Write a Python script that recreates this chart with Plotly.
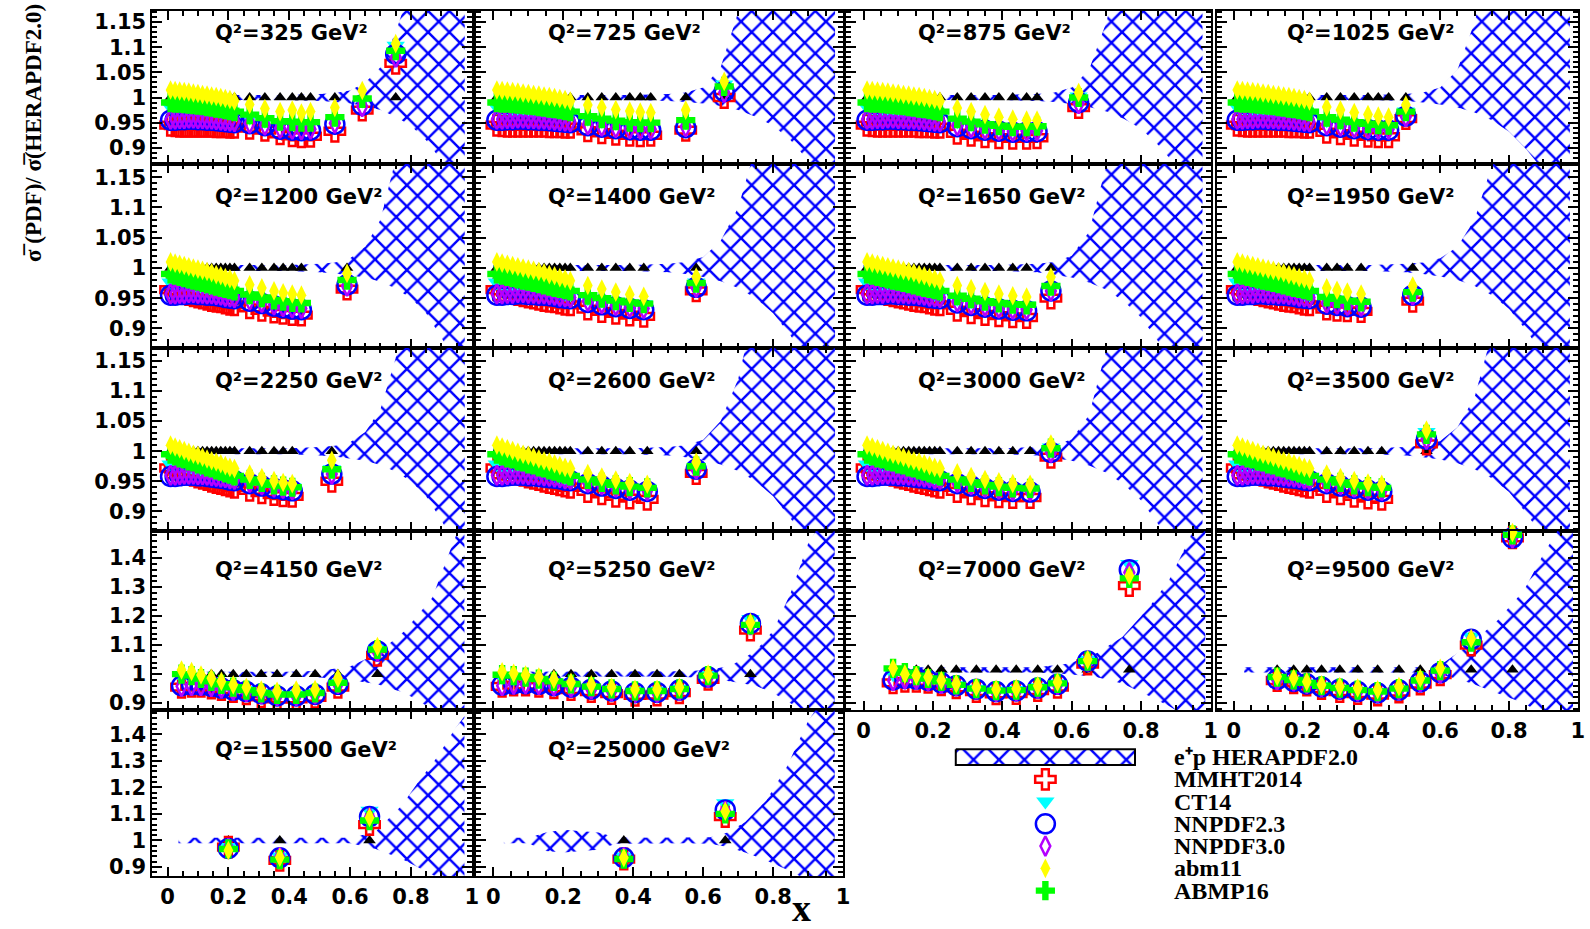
import plotly.graph_objects as go

W, H = 1590, 929

# ---------------------------------------------------------------- data
q2_values = [325, 725, 875, 1025, 1200, 1400, 1650, 1950, 2250, 2600, 3000, 3500,
             4150, 5250, 7000, 9500, 15500, 25000]
series_names = ["MMHT2014", "CT14", "NNPDF2.3", "NNPDF3.0", "abm11", "ABMP16"]
band_name = "e\u207ap HERAPDF2.0"

# dense low-x points shared by the Q2 <= 3500 panels
x_dense = [0.01, 0.025, 0.04, 0.055, 0.07, 0.085, 0.10, 0.115, 0.13, 0.145, 0.16, 0.175, 0.19, 0.205, 0.22]
hera_dense = [1.0, 1.0, 1.0, 1.0, 1.0, 1.0, 1.0, 1.0, 1.0, 1.0, 1.0, 1.0, 1.0, 1.0, 1.0]
# row 1 (325-1025)
abm11_dense_a = [1.015, 1.014, 1.013, 1.012, 1.011, 1.009, 1.008, 1.006, 1.005, 1.003, 1.002, 1.000, 0.998, 0.996, 0.993]
abmp16_dense_a = [0.990, 0.989, 0.989, 0.988, 0.987, 0.986, 0.985, 0.984, 0.982, 0.981, 0.979, 0.978, 0.976, 0.974, 0.972]
ct14_dense_a = [0.981, 0.980, 0.980, 0.979, 0.978, 0.978, 0.977, 0.976, 0.975, 0.973, 0.972, 0.971, 0.969, 0.967, 0.966]
nn23_dense_a = [0.955, 0.955, 0.956, 0.956, 0.957, 0.957, 0.956, 0.956, 0.955, 0.955, 0.954, 0.953, 0.952, 0.951, 0.950]
nn30_dense_a = [0.957, 0.957, 0.958, 0.958, 0.959, 0.959, 0.958, 0.958, 0.957, 0.957, 0.956, 0.955, 0.954, 0.953, 0.952]
mmht_dense_a = [0.945, 0.944, 0.943, 0.943, 0.943, 0.943, 0.943, 0.943, 0.943, 0.943, 0.942, 0.942, 0.942, 0.941, 0.941]
# row 2 (1200-1950)
abm11_dense_b = [1.010, 1.008, 1.006, 1.004, 1.002, 1.000, 0.998, 0.996, 0.994, 0.992, 0.989, 0.987, 0.984, 0.982, 0.979]
abmp16_dense_b = [0.990, 0.988, 0.986, 0.984, 0.982, 0.980, 0.978, 0.976, 0.974, 0.972, 0.970, 0.968, 0.966, 0.964, 0.962]
ct14_dense_b = [0.976, 0.975, 0.974, 0.972, 0.971, 0.970, 0.968, 0.967, 0.965, 0.964, 0.962, 0.961, 0.959, 0.957, 0.956]
nn23_dense_b = [0.955, 0.955, 0.956, 0.956, 0.957, 0.957, 0.956, 0.956, 0.955, 0.955, 0.954, 0.953, 0.951, 0.950, 0.949]
nn30_dense_b = [0.957, 0.957, 0.958, 0.958, 0.959, 0.959, 0.958, 0.958, 0.957, 0.957, 0.956, 0.955, 0.953, 0.952, 0.951]
mmht_dense_b = [0.964, 0.962, 0.960, 0.958, 0.956, 0.954, 0.952, 0.950, 0.948, 0.946, 0.945, 0.944, 0.942, 0.940, 0.939]
# row 3 (2250-3500)
abm11_dense_c = [1.010, 1.007, 1.004, 1.001, 0.998, 0.995, 0.993, 0.990, 0.987, 0.984, 0.982, 0.979, 0.976, 0.973, 0.971]
abmp16_dense_c = [0.995, 0.992, 0.989, 0.987, 0.984, 0.982, 0.979, 0.977, 0.974, 0.972, 0.969, 0.967, 0.964, 0.962, 0.959]
ct14_dense_c = [0.978, 0.977, 0.975, 0.974, 0.972, 0.971, 0.969, 0.967, 0.966, 0.964, 0.962, 0.960, 0.958, 0.956, 0.955]
nn23_dense_c = [0.958, 0.958, 0.959, 0.960, 0.960, 0.960, 0.959, 0.959, 0.958, 0.957, 0.956, 0.955, 0.954, 0.952, 0.951]
nn30_dense_c = [0.960, 0.960, 0.961, 0.962, 0.962, 0.962, 0.961, 0.961, 0.960, 0.959, 0.958, 0.957, 0.956, 0.954, 0.953]
mmht_dense_c = [0.972, 0.970, 0.967, 0.965, 0.962, 0.960, 0.957, 0.955, 0.953, 0.950, 0.948, 0.946, 0.944, 0.942, 0.940]

# ---- higher-x points per panel
x_325 = [0.27, 0.32, 0.37, 0.41, 0.44, 0.47, 0.55, 0.64, 0.75]
abm11_325 = [0.986, 0.978, 0.972, 0.975, 0.969, 0.972, 0.980, 1.014, 1.107]
abmp16_325 = [0.966, 0.959, 0.953, 0.952, 0.951, 0.951, 0.961, 0.998, 1.093]
ct14_325 = [0.960, 0.954, 0.949, 0.948, 0.947, 0.947, 0.957, 0.994, 1.103]
nn23_325 = [0.948, 0.944, 0.937, 0.935, 0.934, 0.935, 0.947, 0.985, 1.086]
nn30_325 = [0.949, 0.945, 0.939, 0.937, 0.936, 0.937, 0.949, 0.982, 1.080]
mmht_325 = [0.939, 0.935, 0.928, 0.924, 0.922, 0.923, 0.933, 0.975, 1.068]
hera_325 = [1.0, 1.0, 1.0, 1.0, 1.0, 1.0, 1.0, 1.0, 1.0]

x_725 = [0.27, 0.31, 0.35, 0.39, 0.42, 0.45, 0.55, 0.66]
abm11_725 = [0.985, 0.980, 0.976, 0.973, 0.971, 0.970, 0.975, 1.032]
abmp16_725 = [0.963, 0.958, 0.954, 0.951, 0.950, 0.950, 0.955, 1.022]
ct14_725 = [0.958, 0.954, 0.950, 0.948, 0.947, 0.947, 0.952, 1.026]
nn23_725 = [0.944, 0.941, 0.938, 0.936, 0.935, 0.935, 0.940, 1.012]
nn30_725 = [0.946, 0.943, 0.940, 0.938, 0.937, 0.937, 0.942, 1.010]
mmht_725 = [0.934, 0.930, 0.927, 0.925, 0.924, 0.925, 0.935, 1.000]
hera_725 = [1.0, 1.0, 1.0, 1.0, 1.0, 1.0, 1.0, 1.0]

x_875 = [0.27, 0.31, 0.35, 0.39, 0.43, 0.47, 0.50, 0.62]
abm11_875 = [0.979, 0.972, 0.966, 0.961, 0.957, 0.955, 0.955, 1.010]
abmp16_875 = [0.958, 0.952, 0.947, 0.944, 0.942, 0.942, 0.943, 1.000]
ct14_875 = [0.953, 0.948, 0.944, 0.941, 0.939, 0.939, 0.940, 1.002]
nn23_875 = [0.942, 0.938, 0.935, 0.933, 0.931, 0.931, 0.932, 0.990]
nn30_875 = [0.944, 0.940, 0.937, 0.935, 0.933, 0.933, 0.934, 0.988]
mmht_875 = [0.929, 0.925, 0.922, 0.920, 0.919, 0.919, 0.920, 0.980]
hera_875 = [1.0, 1.0, 1.0, 1.0, 1.0, 1.0, 1.0, 1.0]

x_1025 = [0.27, 0.31, 0.35, 0.39, 0.42, 0.45, 0.50]
abm11_1025 = [0.981, 0.975, 0.970, 0.966, 0.963, 0.961, 0.985]
abmp16_1025 = [0.961, 0.956, 0.951, 0.948, 0.946, 0.945, 0.972]
ct14_1025 = [0.955, 0.951, 0.947, 0.944, 0.943, 0.942, 0.972]
nn23_1025 = [0.944, 0.941, 0.938, 0.936, 0.935, 0.935, 0.963]
nn30_1025 = [0.946, 0.943, 0.940, 0.938, 0.937, 0.937, 0.962]
mmht_1025 = [0.931, 0.928, 0.925, 0.923, 0.922, 0.922, 0.958]
hera_1025 = [1.0, 1.0, 1.0, 1.0, 1.0, 1.0, 1.0]

x_1200 = [0.27, 0.31, 0.35, 0.38, 0.41, 0.44, 0.59]
abm11_1200 = [0.972, 0.967, 0.962, 0.959, 0.957, 0.955, 0.991]
abmp16_1200 = [0.956, 0.951, 0.947, 0.945, 0.943, 0.942, 0.980]
ct14_1200 = [0.951, 0.947, 0.944, 0.942, 0.940, 0.940, 0.978]
nn23_1200 = [0.945, 0.941, 0.937, 0.934, 0.932, 0.931, 0.972]
nn30_1200 = [0.947, 0.943, 0.939, 0.936, 0.934, 0.933, 0.970]
mmht_1200 = [0.934, 0.930, 0.927, 0.925, 0.923, 0.922, 0.965]
hera_1200 = [1.0, 1.0, 1.0, 1.0, 1.0, 1.0, 1.0]

x_1400 = [0.27, 0.31, 0.35, 0.39, 0.43, 0.58]
abm11_1400 = [0.971, 0.965, 0.960, 0.956, 0.953, 0.985]
abmp16_1400 = [0.955, 0.950, 0.946, 0.943, 0.941, 0.975]
ct14_1400 = [0.950, 0.946, 0.943, 0.941, 0.940, 0.976]
nn23_1400 = [0.943, 0.939, 0.936, 0.933, 0.931, 0.968]
nn30_1400 = [0.945, 0.941, 0.938, 0.935, 0.933, 0.968]
mmht_1400 = [0.932, 0.928, 0.925, 0.922, 0.920, 0.962]
hera_1400 = [1.0, 1.0, 1.0, 1.0, 1.0, 1.0]

x_1650 = [0.27, 0.31, 0.35, 0.39, 0.43, 0.47, 0.54]
abm11_1650 = [0.971, 0.966, 0.961, 0.957, 0.954, 0.952, 0.985]
abmp16_1650 = [0.954, 0.949, 0.945, 0.942, 0.940, 0.939, 0.970]
ct14_1650 = [0.949, 0.945, 0.942, 0.940, 0.938, 0.938, 0.968]
nn23_1650 = [0.942, 0.938, 0.935, 0.932, 0.930, 0.929, 0.962]
nn30_1650 = [0.944, 0.940, 0.937, 0.934, 0.932, 0.931, 0.962]
mmht_1650 = [0.930, 0.926, 0.923, 0.921, 0.919, 0.918, 0.950]
hera_1650 = [1.0, 1.0, 1.0, 1.0, 1.0, 1.0, 1.0]

x_1950 = [0.27, 0.30, 0.33, 0.37, 0.52]
abm11_1950 = [0.967, 0.963, 0.960, 0.957, 0.970]
abmp16_1950 = [0.952, 0.949, 0.946, 0.944, 0.960]
ct14_1950 = [0.949, 0.946, 0.944, 0.942, 0.960]
nn23_1950 = [0.940, 0.938, 0.936, 0.935, 0.955]
nn30_1950 = [0.942, 0.940, 0.938, 0.937, 0.955]
mmht_1950 = [0.932, 0.930, 0.929, 0.928, 0.945]
hera_1950 = [1.0, 1.0, 1.0, 1.0, 1.0]

x_2250 = [0.27, 0.31, 0.35, 0.38, 0.41, 0.54]
abm11_2250 = [0.962, 0.956, 0.951, 0.948, 0.946, 0.985]
abmp16_2250 = [0.953, 0.948, 0.944, 0.942, 0.940, 0.970]
ct14_2250 = [0.950, 0.946, 0.943, 0.941, 0.940, 0.970]
nn23_2250 = [0.946, 0.942, 0.938, 0.936, 0.934, 0.962]
nn30_2250 = [0.948, 0.944, 0.940, 0.938, 0.936, 0.962]
mmht_2250 = [0.935, 0.931, 0.928, 0.926, 0.925, 0.950]
hera_2250 = [1.0, 1.0, 1.0, 1.0, 1.0, 1.0]

x_2600 = [0.27, 0.31, 0.35, 0.39, 0.44, 0.58]
abm11_2600 = [0.963, 0.957, 0.952, 0.948, 0.945, 0.982]
abmp16_2600 = [0.953, 0.948, 0.944, 0.941, 0.939, 0.975]
ct14_2600 = [0.950, 0.946, 0.943, 0.940, 0.939, 0.975]
nn23_2600 = [0.946, 0.942, 0.938, 0.935, 0.933, 0.970]
nn30_2600 = [0.948, 0.944, 0.940, 0.937, 0.935, 0.970]
mmht_2600 = [0.933, 0.929, 0.925, 0.922, 0.920, 0.963]
hera_2600 = [1.0, 1.0, 1.0, 1.0, 1.0, 1.0]

x_3000 = [0.27, 0.31, 0.35, 0.39, 0.43, 0.48, 0.54]
abm11_3000 = [0.964, 0.958, 0.953, 0.949, 0.946, 0.945, 1.012]
abmp16_3000 = [0.953, 0.948, 0.944, 0.941, 0.939, 0.938, 1.005]
ct14_3000 = [0.950, 0.946, 0.943, 0.940, 0.939, 0.938, 1.006]
nn23_3000 = [0.946, 0.942, 0.938, 0.935, 0.933, 0.932, 0.998]
nn30_3000 = [0.948, 0.944, 0.940, 0.937, 0.935, 0.934, 0.998]
mmht_3000 = [0.933, 0.929, 0.926, 0.924, 0.923, 0.923, 0.990]
hera_3000 = [1.0, 1.0, 1.0, 1.0, 1.0, 1.0, 1.0]

x_3500 = [0.27, 0.31, 0.35, 0.39, 0.43, 0.56]
abm11_3500 = [0.962, 0.956, 0.951, 0.947, 0.945, 1.035]
abmp16_3500 = [0.953, 0.948, 0.944, 0.941, 0.939, 1.028]
ct14_3500 = [0.950, 0.946, 0.943, 0.940, 0.939, 1.032]
nn23_3500 = [0.946, 0.942, 0.938, 0.935, 0.933, 1.020]
nn30_3500 = [0.948, 0.944, 0.940, 0.937, 0.935, 1.020]
mmht_3500 = [0.933, 0.929, 0.925, 0.922, 0.920, 1.012]
hera_3500 = [1.0, 1.0, 1.0, 1.0, 1.0, 1.0]

x_4150 = [0.046, 0.079, 0.11, 0.144, 0.177, 0.216, 0.259, 0.308, 0.36, 0.423, 0.485, 0.56, 0.69]
abm11_4150 = [1.014, 1.009, 0.997, 0.986, 0.975, 0.963, 0.955, 0.945, 0.941, 0.945, 0.947, 0.986, 1.095]
abmp16_4150 = [1.000, 0.995, 0.985, 0.975, 0.965, 0.955, 0.945, 0.935, 0.930, 0.930, 0.935, 0.970, 1.085]
ct14_4150 = [0.990, 0.985, 0.978, 0.970, 0.960, 0.952, 0.945, 0.935, 0.930, 0.930, 0.935, 0.970, 1.090]
nn23_4150 = [0.960, 0.963, 0.962, 0.958, 0.952, 0.945, 0.940, 0.932, 0.925, 0.925, 0.930, 0.965, 1.080]
nn30_4150 = [0.958, 0.960, 0.960, 0.957, 0.952, 0.945, 0.940, 0.932, 0.926, 0.926, 0.932, 0.967, 1.078]
mmht_4150 = [0.955, 0.958, 0.958, 0.952, 0.947, 0.940, 0.932, 0.922, 0.915, 0.915, 0.920, 0.955, 1.065]
hera_4150 = [1.0, 1.0, 1.0, 1.0, 1.0, 1.0, 1.0, 1.0, 1.0, 1.0, 1.0, 1.0, 1.0]

x_5250 = [0.025, 0.058, 0.092, 0.13, 0.173, 0.222, 0.28, 0.338, 0.405, 0.468, 0.532, 0.614, 0.735]
abm11_5250 = [1.008, 1.003, 0.997, 0.990, 0.982, 0.972, 0.963, 0.955, 0.948, 0.948, 0.955, 1.000, 1.178]
abmp16_5250 = [0.998, 0.995, 0.990, 0.983, 0.975, 0.966, 0.957, 0.949, 0.942, 0.942, 0.949, 0.995, 1.170]
ct14_5250 = [0.990, 0.987, 0.983, 0.978, 0.971, 0.963, 0.955, 0.948, 0.942, 0.943, 0.950, 0.997, 1.190]
nn23_5250 = [0.962, 0.966, 0.967, 0.965, 0.960, 0.955, 0.948, 0.942, 0.936, 0.937, 0.945, 0.990, 1.175]
nn30_5250 = [0.960, 0.965, 0.966, 0.964, 0.960, 0.955, 0.948, 0.942, 0.936, 0.937, 0.945, 0.990, 1.170]
mmht_5250 = [0.958, 0.962, 0.962, 0.958, 0.953, 0.947, 0.940, 0.933, 0.927, 0.928, 0.936, 0.982, 1.152]
hera_5250 = [1.0, 1.0, 1.0, 1.0, 1.0, 1.0, 1.0, 1.0, 1.0, 1.0, 1.0, 1.0, 1.0]

x_7000 = [0.085, 0.119, 0.152, 0.186, 0.224, 0.267, 0.325, 0.382, 0.44, 0.502, 0.559, 0.646, 0.766]
abm11_7000 = [1.020, 1.000, 0.995, 0.990, 0.978, 0.967, 0.955, 0.948, 0.950, 0.960, 0.972, 1.050, 1.340]
abmp16_7000 = [1.020, 1.005, 0.995, 0.985, 0.975, 0.963, 0.950, 0.943, 0.945, 0.955, 0.968, 1.045, 1.330]
ct14_7000 = [1.000, 0.995, 0.990, 0.982, 0.972, 0.962, 0.950, 0.943, 0.945, 0.955, 0.968, 1.050, 1.380]
nn23_7000 = [0.980, 0.985, 0.983, 0.978, 0.970, 0.960, 0.948, 0.940, 0.942, 0.952, 0.965, 1.045, 1.360]
nn30_7000 = [0.978, 0.983, 0.982, 0.977, 0.968, 0.960, 0.948, 0.940, 0.942, 0.952, 0.965, 1.045, 1.350]
mmht_7000 = [0.970, 0.975, 0.975, 0.972, 0.963, 0.953, 0.940, 0.932, 0.933, 0.943, 0.955, 1.035, 1.305]
hera_7000 = [1.015, 1.015, 1.015, 1.015, 1.015, 1.015, 1.015, 1.015, 1.015, 1.015, 1.015, 1.015, 1.015]

x_9500 = [0.126, 0.174, 0.212, 0.255, 0.308, 0.36, 0.418, 0.48, 0.542, 0.6, 0.69, 0.81]
abm11_9500 = [0.992, 0.986, 0.974, 0.963, 0.957, 0.952, 0.946, 0.957, 0.986, 1.020, 1.123, 1.488]
abmp16_9500 = [0.990, 0.980, 0.970, 0.960, 0.952, 0.945, 0.940, 0.950, 0.978, 1.012, 1.110, 1.480]
ct14_9500 = [0.985, 0.978, 0.968, 0.958, 0.950, 0.943, 0.938, 0.948, 0.975, 1.010, 1.130, 1.480]
nn23_9500 = [0.982, 0.975, 0.966, 0.956, 0.948, 0.940, 0.935, 0.945, 0.973, 1.005, 1.120, 1.470]
nn30_9500 = [0.980, 0.976, 0.967, 0.957, 0.949, 0.941, 0.936, 0.946, 0.973, 1.003, 1.115, 1.470]
mmht_9500 = [0.978, 0.970, 0.962, 0.950, 0.940, 0.933, 0.928, 0.938, 0.966, 0.998, 1.100, 1.470]
hera_9500 = [1.015, 1.015, 1.015, 1.015, 1.015, 1.015, 1.015, 1.015, 1.015, 1.015, 1.015, 1.015]

x_15500 = [0.2, 0.369, 0.664]
abm11_15500 = [0.962, 0.937, 1.087]
abmp16_15500 = [0.968, 0.928, 1.075]
ct14_15500 = [0.975, 0.940, 1.112]
nn23_15500 = [0.970, 0.935, 1.090]
nn30_15500 = [0.970, 0.935, 1.085]
mmht_15500 = [0.975, 0.925, 1.060]
hera_15500 = [1.0, 1.0, 1.0]

x_25000 = [0.373, 0.663]
abm11_25000 = [0.935, 1.110]
abmp16_25000 = [0.930, 1.100]
ct14_25000 = [0.940, 1.140]
nn23_25000 = [0.935, 1.115]
nn30_25000 = [0.935, 1.110]
mmht_25000 = [0.930, 1.090]
hera_25000 = [1.0, 1.0]

# ---- HERAPDF2.0 uncertainty bands (x, upper, lower)
bx_lowq = [0.0, 0.4, 0.5, 0.55, 0.6, 0.65, 0.7, 0.75, 0.8, 0.85, 0.9, 0.95, 0.977]
bup_325 = [1.005, 1.005, 1.007, 1.009, 1.014, 1.03, 1.06, 1.13, 1.22, 1.32, 1.42, 1.52, 1.6]
blo_325 = [0.995, 0.995, 0.993, 0.991, 0.988, 0.983, 0.975, 0.962, 0.944, 0.915, 0.875, 0.83, 0.8]
bup_725 = [1.005, 1.005, 1.007, 1.01, 1.02, 1.06, 1.17, 1.3, 1.45, 1.6, 1.75, 1.9, 2.0]
blo_725 = [0.995, 0.995, 0.993, 0.991, 0.988, 0.983, 0.975, 0.962, 0.944, 0.915, 0.875, 0.83, 0.8]
bup_875 = [1.005, 1.005, 1.007, 1.01, 1.02, 1.055, 1.15, 1.28, 1.42, 1.57, 1.72, 1.87, 1.95]
blo_875 = [0.995, 0.995, 0.993, 0.991, 0.987, 0.981, 0.972, 0.958, 0.938, 0.905, 0.865, 0.82, 0.79]
bup_1025 = [1.005, 1.005, 1.007, 1.01, 1.02, 1.055, 1.15, 1.28, 1.42, 1.57, 1.72, 1.87, 1.95]
blo_1025 = [0.995, 0.995, 0.993, 0.99, 0.986, 0.98, 0.97, 0.955, 0.932, 0.897, 0.855, 0.81, 0.78]
bup_1200 = [1.005, 1.005, 1.007, 1.009, 1.016, 1.035, 1.08, 1.17, 1.28, 1.4, 1.55, 1.7, 1.8]
blo_1200 = [0.995, 0.995, 0.993, 0.991, 0.988, 0.984, 0.977, 0.966, 0.95, 0.925, 0.885, 0.84, 0.81]
bup_1400 = [1.005, 1.005, 1.007, 1.01, 1.018, 1.045, 1.1, 1.2, 1.33, 1.48, 1.62, 1.78, 1.9]
blo_1400 = [0.995, 0.995, 0.993, 0.99, 0.985, 0.978, 0.967, 0.95, 0.925, 0.888, 0.845, 0.8, 0.77]
bup_1650 = [1.005, 1.005, 1.007, 1.01, 1.02, 1.06, 1.17, 1.3, 1.45, 1.6, 1.75, 1.9, 2.0]
blo_1650 = [0.995, 0.995, 0.993, 0.989, 0.984, 0.976, 0.964, 0.945, 0.918, 0.878, 0.835, 0.79, 0.76]
bup_1950 = [1.005, 1.005, 1.007, 1.009, 1.016, 1.035, 1.08, 1.17, 1.28, 1.4, 1.55, 1.7, 1.8]
blo_1950 = [0.995, 0.995, 0.993, 0.99, 0.986, 0.98, 0.97, 0.955, 0.932, 0.897, 0.855, 0.81, 0.78]
bup_2250 = [1.005, 1.005, 1.007, 1.009, 1.015, 1.032, 1.07, 1.155, 1.26, 1.38, 1.52, 1.66, 1.75]
blo_2250 = [0.995, 0.995, 0.993, 0.991, 0.988, 0.984, 0.977, 0.966, 0.95, 0.925, 0.885, 0.84, 0.81]
bup_2600 = [1.005, 1.005, 1.007, 1.01, 1.019, 1.05, 1.12, 1.23, 1.37, 1.52, 1.67, 1.82, 1.9]
blo_2600 = [0.995, 0.995, 0.993, 0.99, 0.985, 0.978, 0.967, 0.95, 0.925, 0.888, 0.845, 0.8, 0.77]
bup_3000 = [1.005, 1.005, 1.007, 1.01, 1.02, 1.06, 1.17, 1.3, 1.45, 1.6, 1.75, 1.9, 2.0]
blo_3000 = [0.995, 0.995, 0.993, 0.989, 0.984, 0.976, 0.964, 0.945, 0.918, 0.878, 0.835, 0.79, 0.76]
bup_3500 = [1.005, 1.005, 1.007, 1.01, 1.017, 1.04, 1.09, 1.185, 1.3, 1.44, 1.58, 1.73, 1.85]
blo_3500 = [0.995, 0.995, 0.993, 0.99, 0.986, 0.98, 0.97, 0.955, 0.932, 0.897, 0.855, 0.81, 0.78]

bx_4150 = [0.03, 0.4, 0.5, 0.6, 0.69, 0.78, 0.87, 0.93, 0.976]
bup_4150 = [1.008, 1.008, 1.012, 1.026, 1.071, 1.15, 1.263, 1.43, 1.55]
blo_4150 = [0.992, 0.992, 0.988, 0.98, 0.965, 0.935, 0.88, 0.83, 0.8]
bx_5250 = [0.03, 0.45, 0.55, 0.62, 0.68, 0.75, 0.8, 0.85, 0.9, 0.976]
bup_5250 = [1.008, 1.008, 1.01, 1.015, 1.03, 1.08, 1.15, 1.28, 1.45, 1.6]
blo_5250 = [0.992, 0.992, 0.99, 0.985, 0.975, 0.96, 0.935, 0.9, 0.86, 0.8]
bx_7000 = [0.08, 0.5, 0.593, 0.67, 0.746, 0.823, 0.88, 0.937, 0.985]
bup_7000 = [1.024, 1.024, 1.037, 1.071, 1.128, 1.231, 1.323, 1.46, 1.6]
blo_7000 = [1.006, 1.006, 1.0, 0.99, 0.968, 0.925, 0.89, 0.85, 0.8]
bx_9500 = [0.03, 0.55, 0.614, 0.69, 0.767, 0.843, 0.9, 0.939, 0.986]
bup_9500 = [1.024, 1.024, 1.043, 1.106, 1.186, 1.288, 1.414, 1.49, 1.6]
blo_9500 = [1.006, 1.006, 0.995, 0.969, 0.934, 0.9, 0.86, 0.83, 0.8]
bx_15500 = [0.036, 0.6, 0.682, 0.769, 0.823, 0.889, 0.943, 0.976]
bup_15500 = [1.01, 1.01, 1.031, 1.131, 1.218, 1.318, 1.418, 1.468]
blo_15500 = [0.99, 0.99, 0.969, 0.931, 0.9, 0.86, 0.83, 0.8]
bx_25000 = [0.03, 0.1, 0.15, 0.2, 0.3, 0.35, 0.45, 0.55, 0.62, 0.67, 0.72, 0.78, 0.84, 0.9, 0.976]
bup_25000 = [1.01, 1.01, 1.03, 1.04, 1.03, 1.012, 1.01, 1.01, 1.012, 1.03, 1.07, 1.15, 1.28, 1.45, 1.6]
blo_25000 = [0.99, 0.99, 0.96, 0.955, 0.965, 0.988, 0.99, 0.99, 0.988, 0.975, 0.955, 0.925, 0.89, 0.85, 0.8]

dense_a = (abm11_dense_a, abmp16_dense_a, ct14_dense_a, nn23_dense_a, nn30_dense_a, mmht_dense_a)
dense_b = (abm11_dense_b, abmp16_dense_b, ct14_dense_b, nn23_dense_b, nn30_dense_b, mmht_dense_b)
dense_c = (abm11_dense_c, abmp16_dense_c, ct14_dense_c, nn23_dense_c, nn30_dense_c, mmht_dense_c)


def with_dense(dense, x, abm11, abmp16, ct14, nn23, nn30, mmht, hera):
    da, dg, dc, db, dp, dr = dense
    return (x_dense + x, dr + mmht, dc + ct14, db + nn23, dp + nn30, da + abm11, dg + abmp16,
            hera_dense + hera)


panels = [
    with_dense(dense_a, x_325, abm11_325, abmp16_325, ct14_325, nn23_325, nn30_325, mmht_325, hera_325) + (bx_lowq, bup_325, blo_325),
    with_dense(dense_a, x_725, abm11_725, abmp16_725, ct14_725, nn23_725, nn30_725, mmht_725, hera_725) + (bx_lowq, bup_725, blo_725),
    with_dense(dense_a, x_875, abm11_875, abmp16_875, ct14_875, nn23_875, nn30_875, mmht_875, hera_875) + (bx_lowq, bup_875, blo_875),
    with_dense(dense_a, x_1025, abm11_1025, abmp16_1025, ct14_1025, nn23_1025, nn30_1025, mmht_1025, hera_1025) + (bx_lowq, bup_1025, blo_1025),
    with_dense(dense_b, x_1200, abm11_1200, abmp16_1200, ct14_1200, nn23_1200, nn30_1200, mmht_1200, hera_1200) + (bx_lowq, bup_1200, blo_1200),
    with_dense(dense_b, x_1400, abm11_1400, abmp16_1400, ct14_1400, nn23_1400, nn30_1400, mmht_1400, hera_1400) + (bx_lowq, bup_1400, blo_1400),
    with_dense(dense_b, x_1650, abm11_1650, abmp16_1650, ct14_1650, nn23_1650, nn30_1650, mmht_1650, hera_1650) + (bx_lowq, bup_1650, blo_1650),
    with_dense(dense_b, x_1950, abm11_1950, abmp16_1950, ct14_1950, nn23_1950, nn30_1950, mmht_1950, hera_1950) + (bx_lowq, bup_1950, blo_1950),
    with_dense(dense_c, x_2250, abm11_2250, abmp16_2250, ct14_2250, nn23_2250, nn30_2250, mmht_2250, hera_2250) + (bx_lowq, bup_2250, blo_2250),
    with_dense(dense_c, x_2600, abm11_2600, abmp16_2600, ct14_2600, nn23_2600, nn30_2600, mmht_2600, hera_2600) + (bx_lowq, bup_2600, blo_2600),
    with_dense(dense_c, x_3000, abm11_3000, abmp16_3000, ct14_3000, nn23_3000, nn30_3000, mmht_3000, hera_3000) + (bx_lowq, bup_3000, blo_3000),
    with_dense(dense_c, x_3500, abm11_3500, abmp16_3500, ct14_3500, nn23_3500, nn30_3500, mmht_3500, hera_3500) + (bx_lowq, bup_3500, blo_3500),
    (x_4150, mmht_4150, ct14_4150, nn23_4150, nn30_4150, abm11_4150, abmp16_4150, hera_4150, bx_4150, bup_4150, blo_4150),
    (x_5250, mmht_5250, ct14_5250, nn23_5250, nn30_5250, abm11_5250, abmp16_5250, hera_5250, bx_5250, bup_5250, blo_5250),
    (x_7000, mmht_7000, ct14_7000, nn23_7000, nn30_7000, abm11_7000, abmp16_7000, hera_7000, bx_7000, bup_7000, blo_7000),
    (x_9500, mmht_9500, ct14_9500, nn23_9500, nn30_9500, abm11_9500, abmp16_9500, hera_9500, bx_9500, bup_9500, blo_9500),
    (x_15500, mmht_15500, ct14_15500, nn23_15500, nn30_15500, abm11_15500, abmp16_15500, hera_15500, bx_15500, bup_15500, blo_15500),
    (x_25000, mmht_25000, ct14_25000, nn23_25000, nn30_25000, abm11_25000, abmp16_25000, hera_25000, bx_25000, bup_25000, blo_25000),
]

# ---------------------------------------------------------------- style
COL_PX = [(153, 474), (478, 847), (850, 1216), (1222, 1585)]
ROW_PX = [(10, 164), (164, 349), (349, 533), (533, 714), (714, 881)]
Y_RANGES = [[0.868, 1.172], [0.868, 1.172], [0.868, 1.172], [0.875, 1.495], [0.865, 1.49]]
Y_DTICK = [0.05, 0.05, 0.05, 0.1, 0.1]
Y_MINOR = [0.01, 0.01, 0.01, 0.02, 0.02]
TITLE_PX = [32, 197, 382, 573, 754]

BLUE = "#0000ff"
# styles in series order: MMHT2014, CT14, NNPDF2.3, NNPDF3.0, abm11, ABMP16
marker_styles = [
    dict(symbol="cross-open", color="#ff0000", size=17, line=dict(width=2.5, color="#ff0000")),
    dict(symbol="triangle-down", color="#00ffff", size=16, line=dict(width=0)),
    dict(symbol="circle-open", color="#0000ff", size=19, line=dict(width=2.5, color="#0000ff")),
    dict(symbol="diamond-tall-open", color="#b400ff", size=14, line=dict(width=2.5, color="#b400ff")),
    dict(symbol="diamond-tall", color="#ffff00", size=14, line=dict(width=0)),
    dict(symbol="cross", color="#00ff00", size=16, line=dict(width=0)),
]
DRAW_ORDER = [0, 1, 2, 3, 5, 4]   # abm11 (yellow) ends on top
HATCH = dict(shape="x", fgcolor=BLUE, bgcolor="rgba(0,0,0,0)", fgopacity=1,
             size=15, solidity=0.3)

TICKFONT = dict(family="DejaVu Sans", size=21, color="black", weight="bold")


def pw(p):
    return p / W


def ph(p):
    return 1 - p / H


fig = go.Figure()
layout = dict(
    width=W, height=H,
    margin=dict(l=0, r=0, t=0, b=0),
    paper_bgcolor="white", plot_bgcolor="rgba(0,0,0,0)",
    showlegend=False,
    annotations=[],
)

for i, pdat in enumerate(panels):
    r, c = divmod(i, 4)
    n = i + 1
    xs = "x" if n == 1 else f"x{n}"
    ys = "y" if n == 1 else f"y{n}"
    xa = "xaxis" if n == 1 else f"xaxis{n}"
    ya = "yaxis" if n == 1 else f"yaxis{n}"
    x, mmht, ct14, nn23, nn30, abm11, abmp16, hera, bx, bup, blo = pdat

    fig.add_trace(go.Scatter(
        x=list(bx) + list(bx[::-1]), y=list(bup) + list(blo[::-1]),
        xaxis=xs, yaxis=ys, mode="lines", fill="toself",
        fillcolor="rgba(0,0,0,0)", line=dict(width=0, color=BLUE),
        fillpattern=HATCH, hoverinfo="skip"))
    fig.add_trace(go.Scatter(
        x=x, y=hera, xaxis=xs, yaxis=ys, mode="markers", cliponaxis=False,
        marker=dict(symbol="triangle-up", color="black", size=11, line=dict(width=0))))
    vals = [mmht, ct14, nn23, nn30, abm11, abmp16]
    for k in DRAW_ORDER:
        fig.add_trace(go.Scatter(
            x=x, y=vals[k], xaxis=xs, yaxis=ys, mode="markers", cliponaxis=False,
            name=series_names[k], marker=marker_styles[k]))

    show_x = (r == 4) or (r == 3 and c >= 2)
    layout[xa] = dict(
        domain=[pw(COL_PX[c][0]), pw(COL_PX[c][1])], range=[-0.05, 1.0005],
        anchor=ys, showgrid=False, zeroline=False,
        showline=True, linecolor="black", linewidth=2, mirror="allticks",
        ticks="inside", ticklen=9, tickwidth=2, tickcolor="black",
        tick0=0, dtick=0.2, showticklabels=show_x, tickfont=TICKFONT,
        minor=dict(dtick=0.05, ticklen=5, tickwidth=1.5, tickcolor="black", ticks="inside", showgrid=False),
    )
    layout[ya] = dict(
        domain=[ph(ROW_PX[r][1]), ph(ROW_PX[r][0])], range=Y_RANGES[r],
        anchor=xs, showgrid=False, zeroline=False,
        showline=True, linecolor="black", linewidth=2, mirror="allticks",
        ticks="inside", ticklen=10, tickwidth=2, tickcolor="black",
        tick0=0.9, dtick=Y_DTICK[r], showticklabels=(c == 0), tickfont=TICKFONT,
        minor=dict(dtick=Y_MINOR[r], ticklen=5, tickwidth=1.5, tickcolor="black", ticks="inside", showgrid=False),
    )
    layout["annotations"].append(dict(
        text=f"<b>Q\u00b2={q2_values[i]} GeV\u00b2</b>",
        xref=xs, x=0.15, xanchor="left",
        yref="paper", y=ph(TITLE_PX[r]), yanchor="middle",
        showarrow=False, font=dict(family="DejaVu Sans", size=21, color="black")))

# ---------------------------------------------------------------- legend (own axis, pixel units)
LEG_AX = 19
LEG_X0, LEG_X1 = 850, 1590
LEG_Y0, LEG_Y1 = 738, 910
LEG_MARK_X = 1050
LEG_TEXT_X = 1177
LEG_ROW0 = 761
LEG_DY = 22.4
LEG_BOX = (960, 1140, 8)   # left, right, half height

layout[f"xaxis{LEG_AX}"] = dict(domain=[pw(LEG_X0), pw(LEG_X1)], range=[LEG_X0, LEG_X1],
                                 visible=False, anchor=f"y{LEG_AX}", fixedrange=True)
layout[f"yaxis{LEG_AX}"] = dict(domain=[ph(LEG_Y1), ph(LEG_Y0)], range=[LEG_Y1, LEG_Y0],
                                 visible=False, anchor=f"x{LEG_AX}", fixedrange=True)

bl, br, bh = LEG_BOX
fig.add_trace(go.Scatter(
    x=[bl, br, br, bl, bl],
    y=[LEG_ROW0 - bh, LEG_ROW0 - bh, LEG_ROW0 + bh, LEG_ROW0 + bh, LEG_ROW0 - bh],
    xaxis=f"x{LEG_AX}", yaxis=f"y{LEG_AX}", mode="lines", fill="toself",
    fillcolor="rgba(0,0,0,0)", line=dict(width=2, color="black"),
    fillpattern=dict(shape="x", fgcolor=BLUE, bgcolor="rgba(0,0,0,0)", fgopacity=1, size=18, solidity=0.25),
    hoverinfo="skip"))
LEGFONT = dict(family="Liberation Serif", size=24, color="black")
layout["annotations"].append(dict(
    text=f"<b>{band_name}</b>", xref=f"x{LEG_AX}", yref=f"y{LEG_AX}",
    x=LEG_TEXT_X, y=LEG_ROW0, xanchor="left", yanchor="middle", showarrow=False, font=LEGFONT))

for j, k in enumerate([0, 1, 2, 3, 4, 5]):
    yrow = LEG_ROW0 + LEG_DY * (j + 1)
    fig.add_trace(go.Scatter(
        x=[LEG_MARK_X], y=[yrow], xaxis=f"x{LEG_AX}", yaxis=f"y{LEG_AX}",
        mode="markers", marker=marker_styles[k], cliponaxis=False))
    layout["annotations"].append(dict(
        text=f"<b>{series_names[k]}</b>", xref=f"x{LEG_AX}", yref=f"y{LEG_AX}",
        x=LEG_TEXT_X, y=yrow, xanchor="left", yanchor="middle", showarrow=False, font=LEGFONT))

# ---------------------------------------------------------------- axis titles
layout["annotations"].append(dict(
    text="<b>x</b>", xref="paper", yref="paper", x=pw(805), y=0,
    xanchor="center", yanchor="bottom", yshift=-7, showarrow=False,
    font=dict(family="Liberation Serif", size=38, color="black")))
layout["annotations"].append(dict(
    text="<b>\u03c3\u0305 (PDF)/ \u03c3\u0305(HERAPDF2.0)</b>", xref="paper", yref="paper",
    x=pw(33), y=ph(133), xanchor="center", yanchor="middle", textangle=-90, showarrow=False,
    font=dict(family="Liberation Serif", size=23, color="black")))

fig.update_layout(**layout)
fig.write_html("out.html", config={"displayModeBar": False},
               post_script="document.body.style.margin='0px';")
